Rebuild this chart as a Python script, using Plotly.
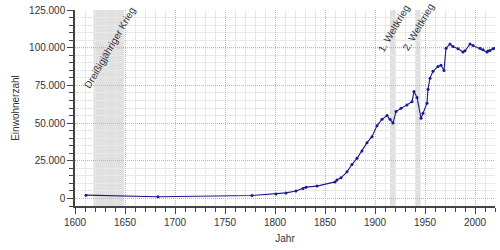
import plotly.graph_objects as go

years = [1611, 1683, 1777, 1801, 1811, 1821, 1828, 1831, 1842, 1860, 1862, 1866,
         1872, 1877, 1882, 1887, 1892, 1897, 1902, 1907, 1912, 1915, 1918, 1921,
         1926, 1932, 1937, 1939, 1942, 1946, 1948, 1952, 1953, 1955, 1958, 1963,
         1966, 1969, 1971, 1975, 1978, 1983, 1988, 1990, 1995, 1998, 2005, 2008,
         2012, 2013, 2015, 2018, 2020]
population = [2200, 1100, 2000, 2900, 3700, 5000, 6600, 7500, 8200, 11000, 12200, 13700,
              17700, 22600, 26600, 31500, 37000, 41000, 48300, 52500, 55000, 52500, 50000, 57600,
              59800, 62000, 64200, 71000, 67000, 53200, 56500, 63200, 72500, 79800, 84400, 87500,
              88300, 84800, 99700, 102400, 100800, 99300, 97100, 98000, 102400, 101500, 99700, 98600,
              97100, 97800, 98100, 99300, 99700]

periods = [(1618.5, 1649, "Dreißigjähriger Krieg"), (1915, 1920, "1. Weltkrieg"), (1940, 1945.5, "2. Weltkrieg")]
label_pos = [(1635, 100000), (1918.5, 113000), (1943, 113600)]
ref_line = 100000

font = "Liberation Sans, Arial, sans-serif"
fig = go.Figure()
fig.add_trace(go.Scatter(x=years, y=population, mode="lines+markers",
                         line=dict(color="#1a1a8c", width=1.1),
                         marker=dict(size=3, color="#1a1a8c"),
                         hoverinfo="skip"))

shapes = []
annotations = []
for (x0, x1, name), (lx, ly) in zip(periods, label_pos):
    shapes.append(dict(type="rect", xref="x", yref="paper", x0=x0, x1=x1, y0=0, y1=1,
                       fillcolor="#e0e0e0", line=dict(width=0), layer="below"))
    annotations.append(dict(x=lx, y=ly, xref="x", yref="y", text=name, textangle=-60,
                            showarrow=False, xanchor="center", yanchor="middle",
                            font=dict(family=font, size=10, color="#333")))
shapes.append(dict(type="line", xref="paper", yref="y", x0=0, x1=1, y0=ref_line, y1=ref_line,
                   line=dict(color="#e07070", width=1, dash="1px,1px"), layer="below"))

fig.update_layout(
    width=500, height=250, margin=dict(l=75, r=5, t=10, b=44),
    paper_bgcolor="white", plot_bgcolor="white",
    separators=",.", showlegend=False,
    font=dict(family=font, size=10, color="#333"),
    shapes=shapes, annotations=annotations,
    xaxis=dict(range=[1600, 2020], dtick=50, tick0=1600, showgrid=True,
               gridcolor="#b8b8b8", griddash="1px,1px", gridwidth=1,
               showline=True, linecolor="#444", linewidth=1.5,
               ticks="outside", ticklen=6, tickcolor="#444", zeroline=False,
               minor=dict(dtick=10, showgrid=True, gridcolor="#e8e8e8", griddash="solid",
                          ticks="outside", ticklen=4, tickcolor="#444"),
               title=dict(text="Jahr", font=dict(size=10), standoff=8),
               tickfont=dict(size=10)),
    yaxis=dict(range=[-5000, 125000], dtick=25000, tick0=0, tickformat=",d",
               showgrid=True, gridcolor="#b8b8b8", griddash="1px,1px", gridwidth=1,
               showline=True, linecolor="#444", linewidth=1.5,
               ticks="outside", ticklen=6, tickcolor="#444", zeroline=False,
               minor=dict(dtick=5000, showgrid=True, gridcolor="#e8e8e8", griddash="solid",
                          ticks="outside", ticklen=4, tickcolor="#444"),
               title=dict(text="Einwohnerzahl", font=dict(size=10), standoff=8),
               tickfont=dict(size=10)),
)
fig.write_html("out.html")
